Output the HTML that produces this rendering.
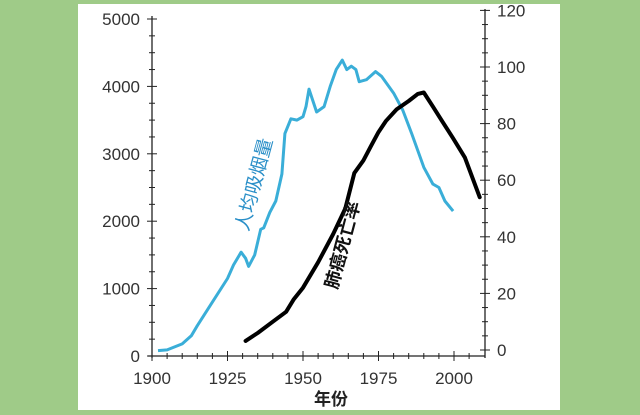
<!DOCTYPE html>
<html><head><meta charset="utf-8"><style>
body{margin:0;background:#9fcb88;}
#wrap{position:relative;width:640px;height:415px;background:#9fcb88;}
#panel{position:absolute;left:78px;top:4px;width:482px;height:406px;background:#fff;}
svg{position:absolute;left:0;top:0;}
text{font-family:"Liberation Sans","Noto Sans CJK SC",sans-serif;}
</style></head><body>
<div id="wrap">
<div id="panel"></div>
<svg id="chart" width="640" height="415"></svg>
</div>
<script>
const blueYears=[1902,1905,1910,1913,1915,1920,1925,1927,1929.5,1931,1932,1934,1936,1937,1939,1941,1943,1944,1946,1948,1950,1951,1952,1954.5,1957,1959,1961,1963,1964.5,1966,1967.5,1968.6,1971,1974,1976,1980,1983,1986,1990,1993,1995,1997,1999.7];
const blueVals=[80,90,180,300,450,800,1150,1350,1540,1450,1330,1500,1880,1900,2130,2300,2700,3300,3520,3500,3550,3700,3960,3620,3700,4000,4250,4390,4250,4300,4250,4070,4100,4220,4150,3900,3650,3300,2800,2550,2500,2300,2150];
const blackYears=[1931,1935,1940,1944.4,1947,1950,1955,1960,1964,1967,1970,1972.5,1975,1977.5,1981,1985,1988,1990,1993,1996,1999.6,2003.6,2008.5];
const blackVals=[3.2,6,10,13.5,18,22,31,41,50,62.5,67,72,77,81,85,88,90.5,91,86,81,75,68,54];
const xTicks=[1900,1925,1950,1975,2000];
const leftTicks=[0,1000,2000,3000,4000,5000];
const rightTicks=[0,20,40,60,80,100,120];
const X=y=>152+(y-1900)*3.02;
const YL=v=>356-v*0.0674;
const YR=v=>350-v*2.83;
const svg=document.getElementById('chart');
const NS='http://www.w3.org/2000/svg';
function mk(t,a){const e=document.createElementNS(NS,t);for(const k in a)e.setAttribute(k,a[k]);svg.appendChild(e);return e;}
let e;
// axes
e=mk('line',{x1:152,y1:16,x2:152,y2:358,stroke:'#222','stroke-width':1.3});

e=mk('line',{x1:148,y1:356,x2:485,y2:356,stroke:'#222','stroke-width':1.3});

e=mk('line',{x1:485,y1:9,x2:485,y2:358,stroke:'#222','stroke-width':1.3});

for(let v=0;v<=5000;v+=250){const maj=v%1000===0;e=mk('line',{x1:maj?147:149,y1:YL(v),x2:maj?157:155,y2:YL(v),stroke:'#222','stroke-width':1});
}
for(let v=0;v<=120;v+=5){const maj=v%20===0;e=mk('line',{x1:maj?480:482,y1:YR(v),x2:maj?490:488,y2:YR(v),stroke:'#222','stroke-width':1});
}
for(let y=1900;y<=2005;y+=5){const maj=y%25===0;e=mk('line',{x1:X(y),y1:maj?351:353,x2:X(y),y2:maj?361:359,stroke:'#222','stroke-width':1});
}
leftTicks.forEach(v=>{e=mk('text',{x:140,y:YL(v)+6,'text-anchor':'end','font-size':17,fill:'#333'});e.textContent=v;
});
rightTicks.forEach(v=>{e=mk('text',{x:497,y:YR(v)+6,'text-anchor':'start','font-size':17,fill:'#333'});e.textContent=v;
});
xTicks.forEach(v=>{e=mk('text',{x:X(v),y:384,'text-anchor':'middle','font-size':17,fill:'#333'});e.textContent=v;
});
e=mk('text',{x:331,y:405,'text-anchor':'middle','font-size':17,'font-weight':'bold',fill:'#222'});e.textContent='年份';

// series
e=mk('path',{d:blueYears.map((y,i)=>(i?'L':'M')+X(y).toFixed(1)+','+YL(blueVals[i]).toFixed(1)).join(''),fill:'none',stroke:'#3aaed8','stroke-width':3,'stroke-linejoin':'round'});

e=mk('path',{d:blackYears.map((y,i)=>(i?'L':'M')+X(y).toFixed(1)+','+YR(blackVals[i]).toFixed(1)).join(''),fill:'none',stroke:'#000','stroke-width':4,'stroke-linejoin':'round','stroke-linecap':'round'});

e=mk('text',{x:0,y:0,'font-size':19,fill:'#2a8fc8',transform:'translate(248,232) rotate(-75)'});e.textContent='人均吸烟量';

e=mk('text',{x:0,y:0,'font-size':18,'font-weight':'bold',fill:'#111',transform:'translate(337,290) rotate(-75)'});e.textContent='肺癌死亡率';

</script>
</body></html>
